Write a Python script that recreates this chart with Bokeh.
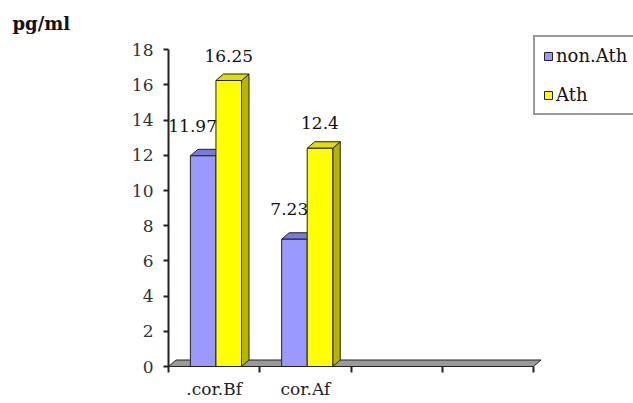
from bokeh.plotting import figure
from bokeh.models import Range1d, FixedTicker, Label, Legend, LegendItem, ColumnDataSource
from bokeh.core.properties import value
from bokeh.embed import file_html
from bokeh.resources import INLINE

categories = [".cor.Bf", "cor.Af", "", ""]
non_ath = [11.97, 7.23]
ath = [16.25, 12.4]
series_names = ["non.Ath", "Ath"]
y_ticks = [0, 2, 4, 6, 8, 10, 12, 14, 16, 18]

FONT = "DejaVu Serif"
W, H = 633, 403
# pixel geometry of the plotting area (origin of data at x0, y0)
x0, y0 = 168, 366
px_x = 91.25
px_y = 17.6

p = figure(width=W, height=H, output_backend="svg", toolbar_location=None,
           x_range=Range1d(-x0 / px_x, (W - x0) / px_x),
           y_range=Range1d(-(H - y0) / px_y, y0 / px_y),
           min_border=0)
p.outline_line_color = None
p.grid.visible = False
p.background_fill_color = "white"
p.border_fill_color = "white"

# 3D geometry (depth offsets in data units)
dx = 7.5 / px_x
dy = 6.5 / px_y
off = 0.24
bw = 0.28
n_cat = len(categories)

# floor
p.patch([0, n_cat, n_cat + dx, dx], [0, 0, dy, dy], fill_color="#9a9a9a",
        line_color="#222222", line_width=1)

colors = [("#9999ff", "#7a7ad8", "#6666cc"), ("#ffff00", "#e0e000", "#b5b500")]
renderers = []
for s, vals in enumerate([non_ath, ath]):
    front, topc, sidec = colors[s]
    lefts = [i + off + s * bw for i in range(len(vals))]
    rights = [l + bw for l in lefts]
    p.patches([[r, r + dx, r + dx, r] for r in rights],
              [[0, dy, v + dy, v] for v in vals],
              fill_color=sidec, line_color="#222222", line_width=1)
    p.patches([[l, l + dx, r + dx, r] for l, r in zip(lefts, rights)],
              [[v, v + dy, v + dy, v] for v in vals],
              fill_color=topc, line_color="#222222", line_width=1)
    r_front = p.quad(left=lefts, right=rights, bottom=0, top=vals,
                     fill_color=front, line_color="#222222", line_width=1)
    renderers.append(r_front)

# data labels
src_b = ColumnDataSource(dict(x=[i + off + bw for i in range(len(non_ath))], y=non_ath,
                              t=[f"{v:g}" for v in non_ath]))
p.text(x="x", y="y", text="t", source=src_b, text_align="right", text_baseline="middle",
       y_offset=-30, x_offset=1, text_font=value(FONT), text_font_size="17px", text_color="#111111")
src_y = ColumnDataSource(dict(x=[i + off + bw * 1.5 for i in range(len(ath))], y=ath,
                              t=[f"{v:g}" for v in ath]))
p.text(x="x", y="y", text="t", source=src_y, text_align="center", text_baseline="middle",
       y_offset=-25, text_font=value(FONT), text_font_size="17px", text_color="#111111")

# y axis
ya = p.yaxis[0]
ya.fixed_location = 0
ya.bounds = (y_ticks[0], y_ticks[-1])
ya.ticker = FixedTicker(ticks=y_ticks)
ya.minor_tick_line_color = None
ya.major_tick_in = 0
ya.major_tick_out = 5
ya.axis_line_color = "#222222"
ya.axis_line_width = 2
ya.major_tick_line_color = "#222222"
ya.major_tick_line_width = 2
ya.major_label_standoff = 10
ya.major_label_text_font = FONT
ya.major_label_text_font_size = "17px"
ya.major_label_text_color = "#333333"

# x axis
xa = p.xaxis[0]
xa.fixed_location = 0
xa.bounds = (0, n_cat)
xa.ticker = FixedTicker(ticks=[i + 0.5 for i in range(n_cat)], minor_ticks=list(range(n_cat + 1)))
xa.major_label_overrides = {i + 0.5: c for i, c in enumerate(categories)}
xa.major_tick_line_color = None
xa.major_tick_in = 0
xa.major_tick_out = 0
xa.minor_tick_line_color = "#222222"
xa.minor_tick_line_width = 2
xa.minor_tick_in = 0
xa.minor_tick_out = 6
xa.axis_line_color = None
xa.major_label_standoff = 6
xa.major_label_text_font = FONT
xa.major_label_text_font_size = "17px"
xa.major_label_text_color = "#222222"

# unit label
p.add_layout(Label(x=-156 / px_x, y=(y0 - 33) / px_y, text="pg/ml", text_font=FONT,
                   text_font_size="18px", text_font_style="bold", text_color="#111111"))

legend = Legend(items=[LegendItem(label=series_names[i], renderers=[renderers[i]]) for i in range(2)],
                location=(533, 288), orientation="vertical",
                glyph_width=10, glyph_height=10, label_height=20, label_width=130,
                label_standoff=3, spacing=18, padding=8, margin=0,
                label_text_font=FONT, label_text_font_size="18px", label_text_color="#111111",
                border_line_color="#333333", border_line_width=2,
                background_fill_color="white")
p.add_layout(legend)

open("out.html", "w").write(file_html(p, INLINE))
